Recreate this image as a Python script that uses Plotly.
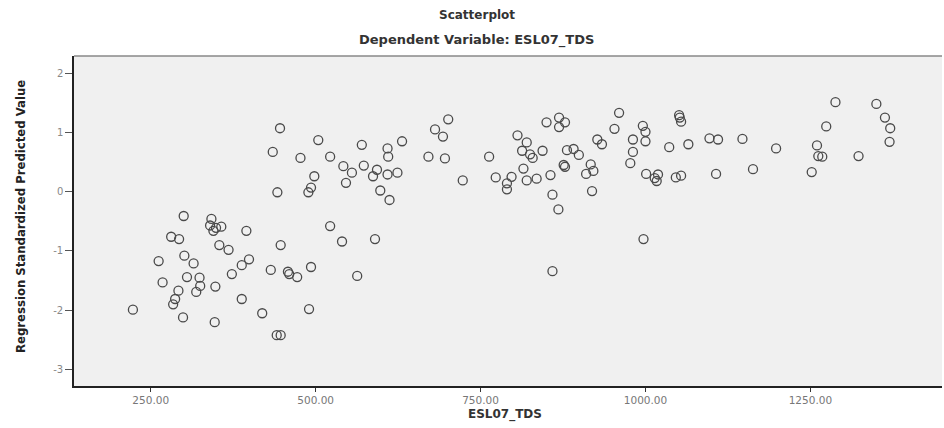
import plotly.graph_objects as go

# ESL07_TDS (x) and Regression Standardized Predicted Value (y)
tds = [446, 504, 435, 477, 498, 442, 493, 489, 300, 342, 340, 349, 357, 345, 395, 281, 293,
       354, 368, 447, 301, 262, 315, 399, 388, 373, 432, 458, 460, 472, 493, 305, 324, 268,
       325, 348, 292, 319, 287, 284, 388, 223, 299, 419, 347, 490, 441, 447,
       701, 681, 693, 570, 631, 609, 522, 610, 671, 696, 763, 542, 573, 555, 593, 587, 609,
       624, 546, 598, 612, 723, 773, 522, 540, 590, 563,
       806, 850, 869, 878, 869, 820, 813, 825, 829, 844, 815, 797, 790, 790, 820, 835, 856,
       859, 868, 881, 891, 899, 878, 876, 917, 921, 910, 919, 927, 934, 960, 953, 981, 996,
       1000, 1000, 981, 977, 1001, 1019, 1014, 1017, 1036, 1051, 1052, 1054, 1065, 1046,
       1054, 1097, 1110, 1107, 997, 859,
       1147, 1198, 1163, 1288, 1274, 1260, 1262, 1268, 1252, 1323, 1350, 1363, 1371, 1370]
pred = [1.07, 0.87, 0.67, 0.57, 0.26, -0.01, 0.07, -0.01, -0.41, -0.46, -0.57, -0.61, -0.59,
        -0.66, -0.66, -0.76, -0.80, -0.90, -0.98, -0.90, -1.08, -1.17, -1.21, -1.14, -1.24,
        -1.39, -1.32, -1.35, -1.39, -1.44, -1.27, -1.44, -1.45, -1.53, -1.59, -1.60, -1.67,
        -1.69, -1.81, -1.90, -1.81, -1.99, -2.12, -2.05, -2.20, -1.98, -2.42, -2.42,
        1.22, 1.05, 0.93, 0.79, 0.85, 0.73, 0.59, 0.59, 0.59, 0.56, 0.59, 0.43, 0.44, 0.32,
        0.37, 0.26, 0.29, 0.32, 0.15, 0.02, -0.14, 0.19, 0.24, -0.58, -0.84, -0.80, -1.42,
        0.95, 1.17, 1.25, 1.17, 1.09, 0.83, 0.69, 0.63, 0.57, 0.69, 0.39, 0.25, 0.14, 0.04,
        0.19, 0.22, 0.28, -0.05, -0.30, 0.70, 0.72, 0.62, 0.42, 0.45, 0.46, 0.35, 0.30, 0.01,
        0.88, 0.80, 1.33, 1.06, 0.88, 1.11, 1.01, 0.85, 0.67, 0.48, 0.30, 0.29, 0.23, 0.18,
        0.75, 1.29, 1.25, 1.18, 0.80, 0.24, 0.27, 0.90, 0.88, 0.30, -0.80, -1.34,
        0.89, 0.73, 0.38, 1.51, 1.10, 0.78, 0.60, 0.59, 0.33, 0.60, 1.48, 1.25, 1.07, 0.84]

x_ticks = [250, 500, 750, 1000, 1250]
x_tick_labels = ["250.00", "500.00", "750.00", "1000.00", "1250.00"]
y_ticks = [-3, -2, -1, 0, 1, 2]
y_tick_labels = ["-3", "-2", "-1", "0", "1", "2"]

fig = go.Figure()
fig.add_trace(go.Scatter(
    x=tds, y=pred, mode="markers",
    marker=dict(symbol="circle-open", size=9, color="#4a4a4a", line=dict(width=1.3)),
    showlegend=False, hoverinfo="x+y"))

font_fam = "DejaVu Sans, Liberation Sans, sans-serif"
fig.update_layout(
    width=944, height=428,
    margin=dict(l=74, r=2, t=56, b=42),
    paper_bgcolor="white", plot_bgcolor="#f0f0f0",
    font=dict(family=font_fam, color="#555555", size=10),
    xaxis=dict(range=[133.7, 1449.5], tickvals=x_ticks, ticktext=x_tick_labels,
               ticks="outside", ticklen=4, tickwidth=1, tickcolor="#333333",
               showgrid=False, zeroline=False, showline=True, linecolor="#222222",
               linewidth=1.5, tickfont=dict(size=10.5, color="#777777", family=font_fam)),
    yaxis=dict(range=[-3.277, 2.288], tickvals=y_ticks, ticktext=y_tick_labels,
               ticks="outside", ticklen=7, tickwidth=1, tickcolor="#555555",
               showgrid=False, zeroline=False, showline=True, linecolor="#222222",
               linewidth=1.5, tickfont=dict(size=10, color="#888888", family=font_fam)),
    shapes=[dict(type="line", xref="paper", yref="paper", x0=0, x1=1, y0=1, y1=1,
                 line=dict(color="#888888", width=1.5))],
    annotations=[
        dict(text="<b>Scatterplot</b>", xref="paper", yref="paper", x=0.464, y=1.124,
             showarrow=False, xanchor="center", yanchor="middle",
             font=dict(size=12, color="#333333", family=font_fam)),
        dict(text="<b>Dependent Variable: ESL07_TDS</b>", xref="paper", yref="paper",
             x=0.464, y=1.048, showarrow=False, xanchor="center", yanchor="middle",
             font=dict(size=13, color="#333333", family=font_fam)),
        dict(text="<b>ESL07_TDS</b>", xref="paper", yref="paper", x=0.4965, y=-0.085,
             showarrow=False, xanchor="center", yanchor="middle",
             font=dict(size=12, color="#333333", family=font_fam)),
        dict(text="<b>Regression Standardized Predicted Value</b>", xref="paper", yref="paper",
             x=-0.0622, y=0.512, showarrow=False, xanchor="center", yanchor="middle",
             textangle=-90,
             font=dict(size=13, color="#222222",
                       family="Liberation Sans Narrow, DejaVu Sans Condensed, Arial Narrow, sans-serif")),
    ],
)

fig.write_html("out.html")
